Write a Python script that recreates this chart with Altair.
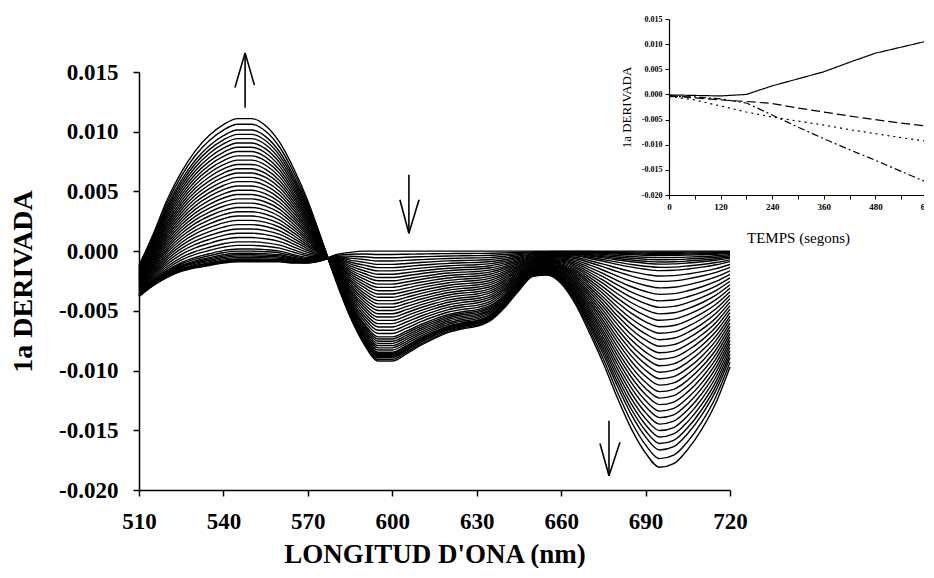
import altair as alt
import pandas as pd

# ---------------- main chart data ----------------
wavelength = list(range(510, 725, 5))  # 43 points, nm

base_spectrum = [
    -0.0038, -0.0029, -0.0022, -0.0017, -0.0014, -0.0012, -0.0010, -0.0009,
    -0.0009, -0.0009, -0.0009, -0.0010, -0.0010, -0.0008, -0.0003, -0.0001,
    0.0, 0.0, 0.0, 0.0, 0.0, 0.0, 0.0, 0.0, 0.0, 0.0, 0.0, 0.0, 0.0, 0.0,
    0.0, 0.0, 0.0, 0.0, 0.0, 0.0, 0.0, 0.0, 0.0, 0.0, 0.0, 0.0, 0.0,
]

final_spectrum = [
    -0.0012, 0.0014, 0.0043, 0.0066, 0.0084, 0.0097, 0.0106, 0.0111,
    0.0111, 0.0105, 0.0091, 0.0069, 0.0042, 0.0009, -0.0025, -0.0055,
    -0.0078, -0.0092, -0.0092, -0.0086, -0.0079, -0.0073, -0.0068, -0.0065,
    -0.0063, -0.0058, -0.0047, -0.0033, -0.0021, -0.0020, -0.0027, -0.0044,
    -0.0068, -0.0094, -0.0123, -0.0149, -0.0169, -0.0181, -0.0178, -0.0166,
    -0.0149, -0.0127, -0.0097,
]

# share of the change that belongs to the early-evolving band (580-655 nm)
early_weight = [
    0, 0, 0, 0, 0, 0, 0, 0, 0, 0, 0, 0, 0,
    0.3, 0.7,
    1, 1, 1, 1, 1, 1, 1, 1, 1, 1, 1, 1, 1, 1,
    0.6, 0.2,
    0, 0, 0, 0, 0, 0, 0, 0, 0, 0, 0, 0,
]

late_progress = [
    0.00, 0.005, 0.01, 0.015, 0.02, 0.03, 0.04, 0.05, 0.06, 0.075,
    0.09, 0.115, 0.14, 0.17, 0.20, 0.23, 0.26, 0.29, 0.32, 0.35,
    0.38, 0.41, 0.44, 0.47, 0.50, 0.53, 0.56, 0.59, 0.62, 0.65,
    0.68, 0.71, 0.74, 0.77, 0.80, 0.83, 0.86, 0.89, 0.92, 0.96, 1.00,
]
early_progress = [
    0.00, 0.03, 0.06, 0.09, 0.12, 0.15, 0.18, 0.21, 0.24, 0.27,
    0.30, 0.33, 0.36, 0.39, 0.42, 0.45, 0.48, 0.51, 0.54, 0.57,
    0.60, 0.63, 0.66, 0.69, 0.72, 0.75, 0.78, 0.80, 0.82, 0.84,
    0.86, 0.88, 0.90, 0.92, 0.93, 0.94, 0.95, 0.96, 0.97, 0.985, 1.00,
]

x_ticks = [510, 540, 570, 600, 630, 660, 690, 720]
y_ticks = [-0.02, -0.015, -0.01, -0.005, 0.0, 0.005, 0.01, 0.015]

# arrows (segments in data units): shaft + two barbs each
arrow_x1 = [547.7, 544.1, 551.0, 605.9, 602.7, 609.5, 677.0, 673.8, 680.9]
arrow_y1 = [0.0120, 0.0137, 0.0139, 0.0064, 0.0043, 0.0043, -0.0142, -0.0161, -0.0160]
arrow_x2 = [547.7, 547.7, 547.7, 605.9, 605.9, 605.9, 677.0, 677.0, 677.0]
arrow_y2 = [0.0166, 0.0166, 0.0166, 0.0015, 0.0015, 0.0015, -0.0188, -0.0188, -0.0188]

# ---------------- inset data ----------------
time_s = [0, 60, 120, 180, 240, 300, 360, 420, 480, 540, 600]
inset_solid = [-0.0001, -0.0002, -0.0003, 0.0000, 0.0017, 0.0031, 0.0045, 0.0064, 0.0082, 0.0094, 0.0106]
inset_dashed = [-0.0002, -0.0007, -0.0011, -0.0014, -0.0018, -0.0027, -0.0035, -0.0043, -0.0050, -0.0057, -0.0063]
inset_dotted = [-0.0004, -0.0011, -0.0023, -0.0035, -0.0045, -0.0053, -0.0061, -0.0070, -0.0078, -0.0086, -0.0093]
inset_dashdot = [-0.0004, -0.0005, -0.0009, -0.0017, -0.0041, -0.0065, -0.0088, -0.0110, -0.0131, -0.0153, -0.0175]
inset_x_ticks = [0, 60, 120, 180, 240, 300, 360, 420, 480, 540, 600]

# ---------------- build tables ----------------
rows = []
for k, (lp, ep) in enumerate(zip(late_progress, early_progress)):
    for wl, b, f, w in zip(wavelength, base_spectrum, final_spectrum, early_weight):
        d = f - b
        rows.append({"wl": wl, "val": b + lp * (1 - w) * d + ep * w * d, "curve": k})
curves_df = pd.DataFrame(rows)

arrows_df = pd.DataFrame({"wl": arrow_x1, "val": arrow_y1, "x2": arrow_x2, "y2": arrow_y2})

series_names = ["solid", "dashed", "dotted", "dashdot"]
inset_rows = []
for name, vals in zip(series_names, [inset_solid, inset_dashed, inset_dotted, inset_dashdot]):
    for t, v in zip(time_s, vals):
        inset_rows.append({"t": t, "v": v, "s": name})
inset_df = pd.DataFrame(inset_rows)

FONT = "Liberation Serif"
W, H = 591, 418
hy = "replace(format(datum.value, '.3f'), '\u2212', '-')"

x_scale = alt.Scale(domain=[510, 720], nice=False, zero=False)
y_scale = alt.Scale(domain=[-0.02, 0.015], nice=False, zero=False)

x_axis = alt.Axis(
    values=x_ticks, title="LONGITUD D'ONA (nm)", format="d", labelFlush=False,
    labelFont=FONT, labelFontWeight="bold", labelFontSize=23, labelColor="black",
    labelPadding=14, tickSize=6, tickColor="black", tickWidth=1.5,
    domainColor="black", domainWidth=1.5, grid=False,
    titleFont=FONT, titleFontSize=27, titleFontWeight="bold", titleColor="black",
    titlePadding=8,
)
y_axis = alt.Axis(
    values=y_ticks, title="1a DERIVADA", labelExpr=hy, labelFlush=False,
    labelFont=FONT, labelFontWeight="bold", labelFontSize=23, labelColor="black",
    labelPadding=15, tickSize=6, tickColor="black", tickWidth=1.5,
    domainColor="black", domainWidth=1.5, grid=False,
    titleFont=FONT, titleFontSize=28, titleFontWeight="bold", titleColor="black",
    titlePadding=21,
)

curves = alt.Chart(curves_df).mark_line(
    color="black", strokeWidth=1.4, interpolate="monotone", clip=False
).encode(
    x=alt.X("wl:Q", scale=x_scale, axis=x_axis),
    y=alt.Y("val:Q", scale=y_scale, axis=y_axis),
    detail="curve:N",
)

arrows = alt.Chart(arrows_df).mark_rule(color="black", strokeWidth=1.6).encode(
    x=alt.X("wl:Q", scale=x_scale, axis=x_axis),
    y=alt.Y("val:Q", scale=y_scale, axis=y_axis),
    x2="x2:Q",
    y2="y2:Q",
)

main = alt.layer(curves, arrows)

inset = alt.Chart(inset_df).mark_line(color="black", strokeWidth=1.2).encode(
    x=alt.X("t:Q", scale=alt.Scale(domain=[0, 600], range=[530, 788], nice=False, zero=False),
            axis=alt.Axis(
                orient="bottom", offset=123 - H, values=inset_x_ticks, labelFlush=False,
                labelExpr="datum.value % 120 == 0 ? datum.label : ''",
                title="TEMPS (segons)", labelFont=FONT, labelFontWeight="bold",
                labelFontSize=9, labelColor="black", labelPadding=3, tickSize=4,
                tickColor="black", domainColor="black", domainWidth=1.2, grid=False,
                titleFont=FONT, titleFontSize=15, titleFontWeight="normal",
                titleColor="black", titlePadding=19,
            )),
    y=alt.Y("v:Q", scale=alt.Scale(domain=[-0.02, 0.015], range=[123, -53], nice=False, zero=False),
            axis=alt.Axis(
                orient="left", offset=-530, values=y_ticks, labelExpr=hy, labelFlush=False,
                title="1a DERIVADA", labelFont=FONT, labelFontWeight="bold",
                labelFontSize=8, labelColor="black", labelPadding=3, tickSize=4,
                tickColor="black", domainColor="black", domainWidth=1.2, grid=False,
                titleFont=FONT, titleFontSize=13, titleFontWeight="normal",
                titleColor="black", titlePadding=8,
            )),
    strokeDash=alt.StrokeDash("s:N", scale=alt.Scale(
        domain=series_names, range=[[1, 0], [9, 4], [2, 4], [7, 3, 2, 3]]), legend=None),
)

chart = alt.layer(main, inset).resolve_scale(
    x="independent", y="independent", strokeDash="independent"
).properties(
    width=W, height=H,
    autosize=alt.AutoSizeParams(type="none"),
    padding={"left": 131, "top": 64, "right": 194, "bottom": 78},
).configure(background="white").configure_view(stroke=None)

chart.save("out.html", embed_options={"renderer": "svg", "actions": False})
